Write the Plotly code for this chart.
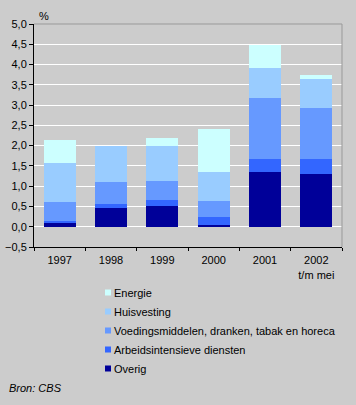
import plotly.graph_objects as go

years = ["1997", "1998", "1999", "2000", "2001", "2002<br>t/m mei"]
overig = [0.10, 0.45, 0.50, 0.05, 1.36, 1.31]
arbeid = [0.05, 0.12, 0.17, 0.20, 0.30, 0.35]
voeding = [0.47, 0.54, 0.47, 0.39, 1.51, 1.26]
huisvesting = [0.96, 0.88, 0.85, 0.70, 0.74, 0.72]
energie = [0.57, 0.00, 0.19, 1.06, 0.57, 0.10]

series = [
    ("Overig", overig, "#000099"),
    ("Arbeidsintensieve diensten", arbeid, "#3366FF"),
    ("Voedingsmiddelen, dranken, tabak en horeca", voeding, "#6699FF"),
    ("Huisvesting", huisvesting, "#99CCFF"),
    ("Energie", energie, "#CCFFFF"),
]

W, H = 356, 405
L, R, T, B = 34, 14, 24, 158
PW, PH = W - L - R, H - T - B


def px(xp):
    return (xp - L) / PW


def py(yp):
    return (H - B - yp) / PH


fig = go.Figure()
for name, vals, col in series:
    fig.add_trace(go.Bar(x=years, y=vals, name=name, marker=dict(color=col, line=dict(width=0)),
                         width=0.62, showlegend=False))

font = dict(family="Liberation Sans, Arial, sans-serif", size=11, color="black")

annotations = [
    dict(text="%", xref="paper", yref="paper", x=px(37), y=py(16), xanchor="left",
         yanchor="middle", showarrow=False, font=font),
    dict(text="<i>Bron: CBS</i>", xref="paper", yref="paper", x=px(7), y=py(388),
         xanchor="left", yanchor="middle", showarrow=False, font=font),
]
shapes = [
    dict(type="line", xref="paper", yref="paper", x0=0, x1=1, y0=1, y1=1,
         line=dict(color="#999999", width=1)),
    dict(type="line", xref="paper", yref="paper", x0=1, x1=1, y0=0, y1=1,
         line=dict(color="#999999", width=1)),
]
# manual legend (top-to-bottom: Energie ... Overig)
for i, (name, vals, col) in enumerate(reversed(series)):
    yc = 292.5 + 19 * i
    shapes.append(dict(type="rect", xref="paper", yref="paper", x0=px(105), x1=px(111),
                       y0=py(yc - 3), y1=py(yc + 3), fillcolor=col, line=dict(width=0)))
    annotations.append(dict(text=name, xref="paper", yref="paper", x=px(112), y=py(yc),
                            xanchor="left", yanchor="middle", showarrow=False, font=font))

fig.update_layout(
    width=W, height=H,
    margin=dict(l=L, r=R, t=T, b=B, autoexpand=False),
    barmode="stack",
    paper_bgcolor="#CCCCCC", plot_bgcolor="#CCCCCC",
    font=font,
    separators=",.",
    showlegend=False,
    xaxis=dict(showline=True, linecolor="black", linewidth=1, ticks="outside", ticklen=3,
               tickcolor="black", tickson="boundaries", showgrid=False, tickfont=font,
               range=[-0.5, 5.5], tickangle=0, automargin=False, ticklabelstandoff=3),
    yaxis=dict(range=[-0.5, 5.0], dtick=0.5, tick0=0, tickformat=".1f", showline=True,
               linecolor="black", linewidth=1, ticks="outside", ticklen=4, tickcolor="black",
               showgrid=True, gridcolor="white", gridwidth=1, zeroline=True,
               zerolinecolor="white", zerolinewidth=1, tickfont=font, automargin=False),
    annotations=annotations,
    shapes=shapes,
)
fig.write_html(
    "out.html",
    config={"displayModeBar": False},
    post_script="document.body.style.margin='0';document.body.style.background='#CCCCCC';",
)
